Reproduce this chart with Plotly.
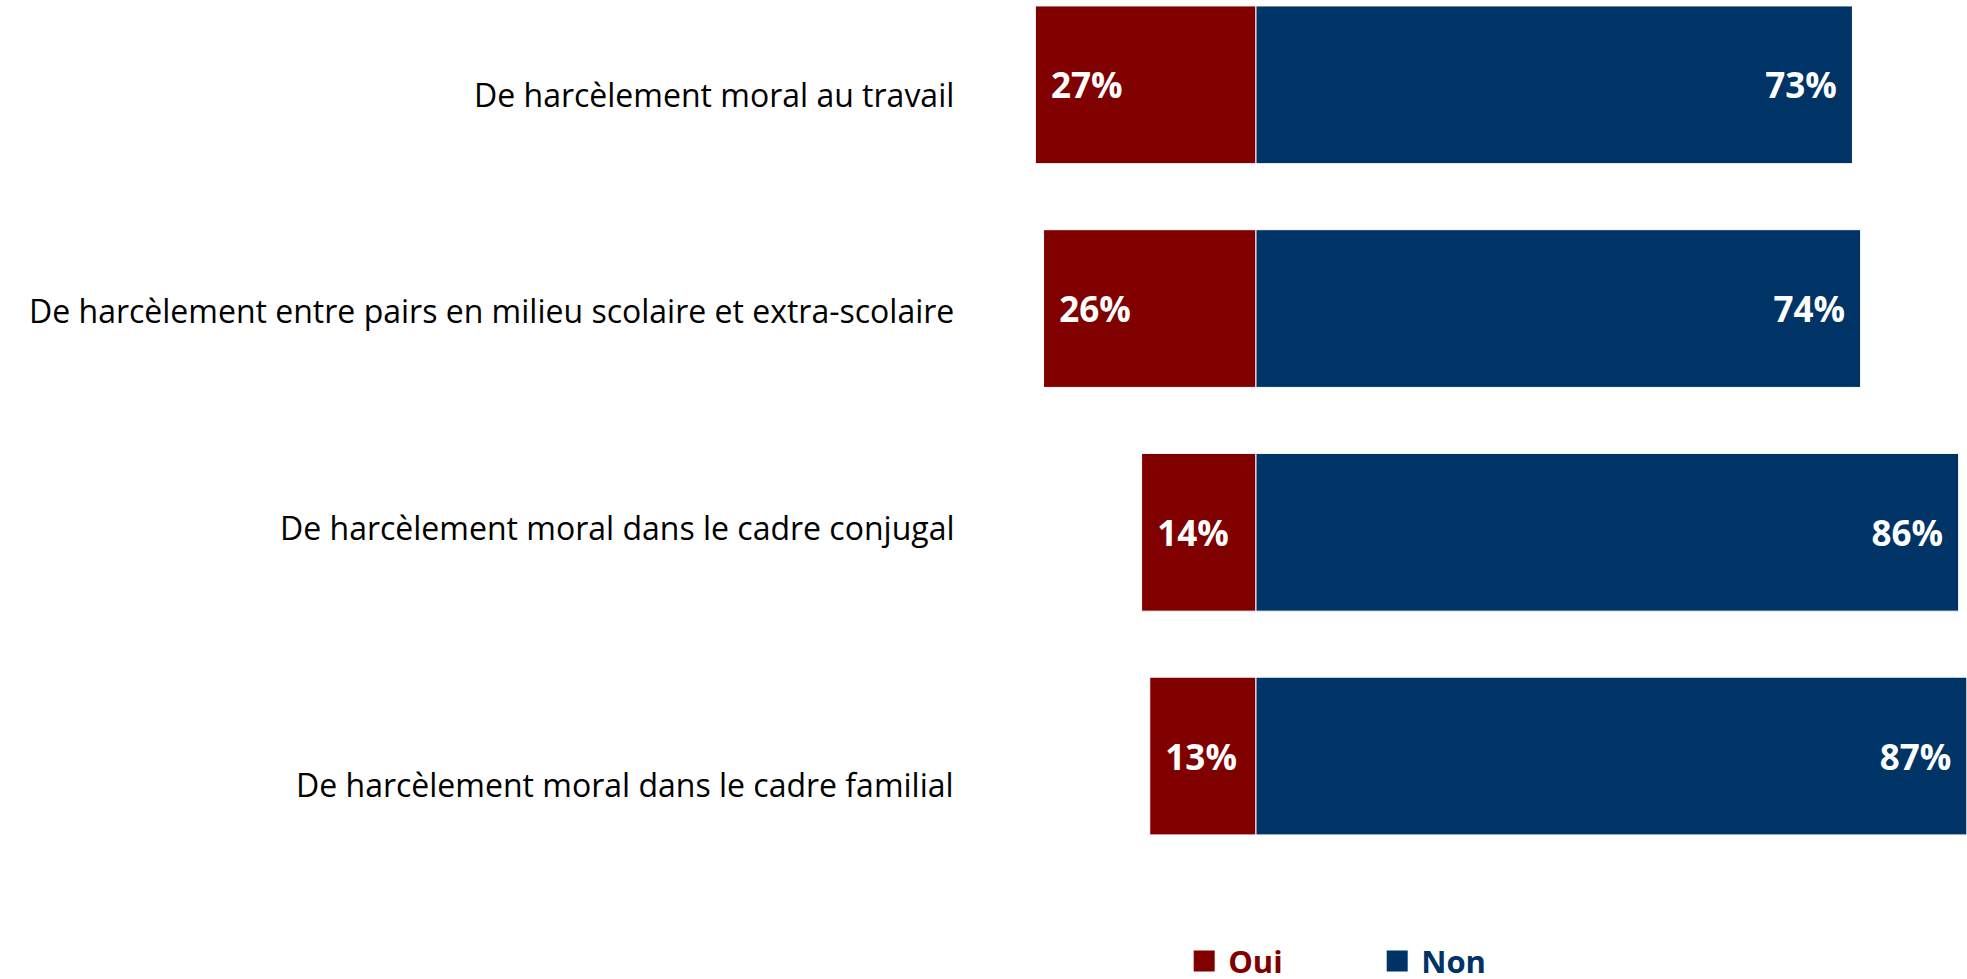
import plotly.graph_objects as go

categories = [
    "De harcèlement moral au travail",
    "De harcèlement entre pairs en milieu scolaire et extra-scolaire",
    "De harcèlement moral dans le cadre conjugal",
    "De harcèlement moral dans le cadre familial",
]
oui = [27, 26, 14, 13]
non = [73, 74, 86, 87]
series_names = ["Oui", "Non"]

OUI_COLOR = "#800000"
NON_COLOR = "#003366"
FONT = "'Open Sans', Lato, sans-serif"
label_yshift = [-10, -2, 5, -28]
PAD = "\u00a0\u200a"

fig = go.Figure()
fig.add_trace(go.Bar(
    y=categories, x=[-v for v in oui], orientation="h",
    marker=dict(color=OUI_COLOR, line=dict(color="white", width=1)),
    text=[f"<b>{PAD}{v}%</b>" for v in oui], textposition="inside",
    insidetextanchor="end", textangle=0,
    textfont=dict(family=FONT, size=35, color="white"),
    width=0.705, showlegend=False, hoverinfo="skip",
))
fig.add_trace(go.Bar(
    y=categories, x=non, orientation="h",
    marker=dict(color=NON_COLOR, line=dict(color="white", width=1)),
    text=[f"<b>{v}%{PAD}</b>" for v in non], textposition="inside",
    insidetextanchor="end", textangle=0,
    textfont=dict(family=FONT, size=35, color="white"),
    width=0.705, showlegend=False, hoverinfo="skip",
))
for name, col in zip(series_names, [OUI_COLOR, NON_COLOR]):
    fig.add_trace(go.Scatter(
        x=[None], y=[None], mode="markers",
        marker=dict(symbol="square", size=16, color=col, line=dict(color=col, width=5)),
        name=f"<span style='color:{col}'><b>{name}</b></span>",
    ))

for cat, ys in zip(categories, label_yshift):
    fig.add_annotation(
        x=-0.014, xref="paper", y=cat, yref="y", text=cat, showarrow=False,
        xanchor="right", yanchor="middle", yshift=ys,
        font=dict(family=FONT, size=32, color="black"),
    )

fig.update_layout(
    width=1967, height=979,
    margin=dict(l=970, r=0, t=0, b=99),
    plot_bgcolor="white", paper_bgcolor="white",
    barmode="relative",
    xaxis=dict(range=[-35.0, 87.02], visible=False, fixedrange=True),
    yaxis=dict(categoryorder="array", categoryarray=categories,
               range=[3.554, -0.379], visible=False),
    showlegend=True,
    legend=dict(orientation="h", xref="container", yref="container",
                x=0.600, xanchor="left", y=0.018, yanchor="middle",
                font=dict(family=FONT, size=31), entrywidth=140, itemwidth=38,
                bgcolor="rgba(0,0,0,0)"),
)

fig.write_html("out.html", config={"displayModeBar": False},
               post_script="document.body.style.margin='0';")
